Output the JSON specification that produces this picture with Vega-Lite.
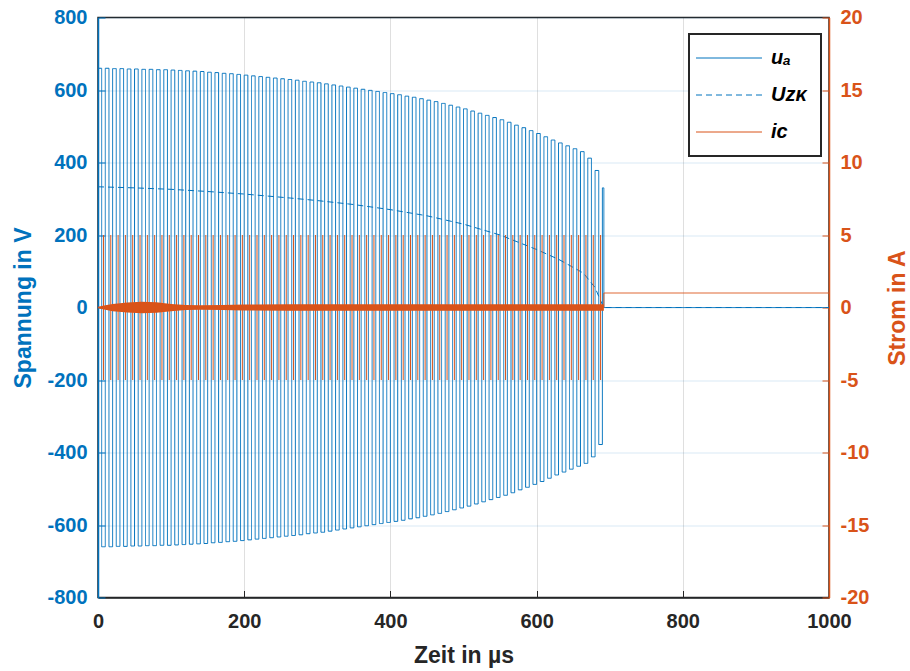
{
  "$schema": "https://vega.github.io/schema/vega-lite/v6.json",
  "width": 731,
  "height": 580,
  "autosize": {"type": "none"},
  "padding": {"left": 98, "top": 17.5, "right": 81, "bottom": 73.5},
  "background": "white",
  "datasets": {
    "ua": [
      {"t":0,"v":660},{"t":5,"v":-660},{"t":10,"v":660},{"t":15,"v":-660},
      {"t":20,"v":659},{"t":25,"v":-659},{"t":30,"v":659},{"t":35,"v":-659},
      {"t":40,"v":658},{"t":45,"v":-658},{"t":50,"v":658},{"t":55,"v":-658},
      {"t":60,"v":657},{"t":65,"v":-657},{"t":70,"v":657},{"t":75,"v":-657},
      {"t":80,"v":656},{"t":85,"v":-656},{"t":90,"v":656},{"t":95,"v":-656},
      {"t":100,"v":655},{"t":105,"v":-655},{"t":110,"v":654},{"t":115,"v":-654},
      {"t":120,"v":653},{"t":125,"v":-653},{"t":130,"v":652},{"t":135,"v":-652},
      {"t":140,"v":651},{"t":145,"v":-651},{"t":150,"v":649},{"t":155,"v":-649},
      {"t":160,"v":648},{"t":165,"v":-648},{"t":170,"v":646},{"t":175,"v":-646},
      {"t":180,"v":645},{"t":185,"v":-645},{"t":190,"v":643},{"t":195,"v":-643},
      {"t":200,"v":641},{"t":205,"v":-641},{"t":210,"v":639},{"t":215,"v":-639},
      {"t":220,"v":637},{"t":225,"v":-637},{"t":230,"v":635},{"t":235,"v":-635},
      {"t":240,"v":633},{"t":245,"v":-633},{"t":250,"v":631},{"t":255,"v":-631},
      {"t":260,"v":629},{"t":265,"v":-629},{"t":270,"v":627},{"t":275,"v":-627},
      {"t":280,"v":624},{"t":285,"v":-624},{"t":290,"v":622},{"t":295,"v":-622},
      {"t":300,"v":620},{"t":305,"v":-620},{"t":310,"v":617},{"t":315,"v":-617},
      {"t":320,"v":614},{"t":325,"v":-614},{"t":330,"v":611},{"t":335,"v":-611},
      {"t":340,"v":608},{"t":345,"v":-608},{"t":350,"v":605},{"t":355,"v":-605},
      {"t":360,"v":602},{"t":365,"v":-602},{"t":370,"v":599},{"t":375,"v":-599},
      {"t":380,"v":596},{"t":385,"v":-596},{"t":390,"v":593},{"t":395,"v":-593},
      {"t":400,"v":590},{"t":405,"v":-590},{"t":410,"v":587},{"t":415,"v":-587},
      {"t":420,"v":583},{"t":425,"v":-583},{"t":430,"v":580},{"t":435,"v":-580},
      {"t":440,"v":576},{"t":445,"v":-576},{"t":450,"v":572},{"t":455,"v":-572},
      {"t":460,"v":568},{"t":465,"v":-568},{"t":470,"v":563},{"t":475,"v":-563},
      {"t":480,"v":558},{"t":485,"v":-558},{"t":490,"v":553},{"t":495,"v":-553},
      {"t":500,"v":548},{"t":505,"v":-548},{"t":510,"v":542},{"t":515,"v":-542},
      {"t":520,"v":536},{"t":525,"v":-536},{"t":530,"v":530},{"t":535,"v":-530},
      {"t":540,"v":524},{"t":545,"v":-524},{"t":550,"v":518},{"t":555,"v":-518},
      {"t":560,"v":511},{"t":565,"v":-511},{"t":570,"v":503},{"t":575,"v":-503},
      {"t":580,"v":496},{"t":585,"v":-496},{"t":590,"v":488},{"t":595,"v":-488},
      {"t":600,"v":480},{"t":605,"v":-480},{"t":610,"v":471},{"t":615,"v":-471},
      {"t":620,"v":462},{"t":625,"v":-462},{"t":630,"v":454},{"t":635,"v":-454},
      {"t":640,"v":446},{"t":645,"v":-446},{"t":650,"v":438},{"t":655,"v":-438},
      {"t":660,"v":430},{"t":665,"v":-430},{"t":670,"v":412},{"t":675,"v":-412},
      {"t":680,"v":378},{"t":685,"v":-378},{"t":690,"v":330},{"t":692,"v":0},
      {"t":1000,"v":0}
    ],
    "uzk": [
      {"t":0,"v":333},{"t":50,"v":330},{"t":100,"v":326},{"t":150,"v":320},
      {"t":200,"v":313},{"t":263,"v":302},{"t":300,"v":295},{"t":350,"v":284},
      {"t":400,"v":270},{"t":450,"v":253},{"t":500,"v":230},{"t":550,"v":200},
      {"t":600,"v":160},{"t":630,"v":133},{"t":664,"v":95},{"t":680,"v":55},
      {"t":687,"v":21},{"t":692,"v":0},{"t":1000,"v":0}
    ],
    "icband": [
      {"t":0,"lo":-0.05,"hi":0.05},{"t":10,"lo":-0.15,"hi":0.15},
      {"t":20,"lo":-0.25,"hi":0.25},{"t":40,"lo":-0.35,"hi":0.35},
      {"t":60,"lo":-0.4,"hi":0.4},{"t":80,"lo":-0.37,"hi":0.37},
      {"t":100,"lo":-0.25,"hi":0.25},{"t":120,"lo":-0.17,"hi":0.17},
      {"t":140,"lo":-0.15,"hi":0.15},{"t":170,"lo":-0.17,"hi":0.17},
      {"t":200,"lo":-0.2,"hi":0.2},{"t":260,"lo":-0.23,"hi":0.23},
      {"t":400,"lo":-0.23,"hi":0.23},{"t":600,"lo":-0.23,"hi":0.23},
      {"t":692,"lo":-0.23,"hi":0.23}
    ],
    "icspikes": [
      {"t":7.5,"lo":-5,"hi":5},{"t":17.5,"lo":-5,"hi":5},{"t":27.5,"lo":-5,"hi":5},{"t":37.5,"lo":-5,"hi":5},
      {"t":47.5,"lo":-5,"hi":5},{"t":57.5,"lo":-5,"hi":5},{"t":67.5,"lo":-5,"hi":5},{"t":77.5,"lo":-5,"hi":5},
      {"t":87.5,"lo":-5,"hi":5},{"t":97.5,"lo":-5,"hi":5},{"t":107.5,"lo":-5,"hi":5},{"t":117.5,"lo":-5,"hi":5},
      {"t":127.5,"lo":-5,"hi":5},{"t":137.5,"lo":-5,"hi":5},{"t":147.5,"lo":-5,"hi":5},{"t":157.5,"lo":-5,"hi":5},
      {"t":167.5,"lo":-5,"hi":5},{"t":177.5,"lo":-5,"hi":5},{"t":187.5,"lo":-5,"hi":5},{"t":197.5,"lo":-5,"hi":5},
      {"t":207.5,"lo":-5,"hi":5},{"t":217.5,"lo":-5,"hi":5},{"t":227.5,"lo":-5,"hi":5},{"t":237.5,"lo":-5,"hi":5},
      {"t":247.5,"lo":-5,"hi":5},{"t":257.5,"lo":-5,"hi":5},{"t":267.5,"lo":-5,"hi":5},{"t":277.5,"lo":-5,"hi":5},
      {"t":287.5,"lo":-5,"hi":5},{"t":297.5,"lo":-5,"hi":5},{"t":307.5,"lo":-5,"hi":5},{"t":317.5,"lo":-5,"hi":5},
      {"t":327.5,"lo":-5,"hi":5},{"t":337.5,"lo":-5,"hi":5},{"t":347.5,"lo":-5,"hi":5},{"t":357.5,"lo":-5,"hi":5},
      {"t":367.5,"lo":-5,"hi":5},{"t":377.5,"lo":-5,"hi":5},{"t":387.5,"lo":-5,"hi":5},{"t":397.5,"lo":-5,"hi":5},
      {"t":407.5,"lo":-5,"hi":5},{"t":417.5,"lo":-5,"hi":5},{"t":427.5,"lo":-5,"hi":5},{"t":437.5,"lo":-5,"hi":5},
      {"t":447.5,"lo":-5,"hi":5},{"t":457.5,"lo":-5,"hi":5},{"t":467.5,"lo":-5,"hi":5},{"t":477.5,"lo":-5,"hi":5},
      {"t":487.5,"lo":-5,"hi":5},{"t":497.5,"lo":-5,"hi":5},{"t":507.5,"lo":-5,"hi":5},{"t":517.5,"lo":-5,"hi":5},
      {"t":527.5,"lo":-5,"hi":5},{"t":537.5,"lo":-5,"hi":5},{"t":547.5,"lo":-5,"hi":5},{"t":557.5,"lo":-5,"hi":5},
      {"t":567.5,"lo":-5,"hi":5},{"t":577.5,"lo":-5,"hi":5},{"t":587.5,"lo":-5,"hi":5},{"t":597.5,"lo":-5,"hi":5},
      {"t":607.5,"lo":-5,"hi":5},{"t":617.5,"lo":-5,"hi":5},{"t":627.5,"lo":-5,"hi":5},{"t":637.5,"lo":-5,"hi":5},
      {"t":647.5,"lo":-5,"hi":5},{"t":657.5,"lo":-5,"hi":5},{"t":667.5,"lo":-5,"hi":5},{"t":677.5,"lo":-5,"hi":5},
      {"t":687.5,"lo":-5,"hi":5}
    ],
    "ic": [
      {"t":0,"v":0},{"t":692,"v":0},{"t":692,"v":1},{"t":1000,"v":1}
    ]
  },
  "layer": [
    {
      "data": {"name": "ua"},
      "mark": {"type": "line", "interpolate": "step-after", "strokeWidth": 1, "clip": true},
      "encoding": {
        "x": {"field": "t", "type": "quantitative", "scale": {"domain": [0, 1000], "nice": false},
          "axis": {"title": "Zeit in µs", "values": [0,200,400,600,800,1000], "labelExpr": "'' + datum.value",
            "labelColor": "#262626", "titleColor": "#262626",
            "domainColor": "#262626", "domainWidth": 1.5, "tickColor": "#262626", "tickSize": -7, "labelPadding": 21,
            "gridColor": "#262626", "gridOpacity": 0.15, "titleX": 365.5, "titleY": 58, "titleBaseline": "middle", "labelFlush": false}},
        "y": {"field": "v", "type": "quantitative", "scale": {"domain": [-800, 800], "nice": false},
          "axis": {"orient": "left", "title": "Spannung in V", "values": [-800,-600,-400,-200,0,200,400,600,800],
            "labelExpr": "datum.value < 0 ? '-' + abs(datum.value) : '' + datum.value",
            "labelColor": "#0072BD", "titleColor": "#0072BD", "domainColor": "#0072BD", "domainWidth": 1.5,
            "tickColor": "#0072BD", "tickSize": -7, "labelPadding": 18, "gridColor": "#0072BD", "gridOpacity": 0.15,
            "titleX": -75, "titleY": 290, "titleAngle": 270, "titleBaseline": "middle", "titleAlign": "center", "labelFlush": false}},
        "color": {"datum": "uₐ", "type": "nominal",
          "scale": {"domain": ["uₐ", "Uᴢᴋ", "iᴄ"], "range": ["#0072BD", "#0072BD", "#D95319"]},
          "legend": {"orient": "none", "legendX": 591, "legendY": 16.5, "title": null, "symbolType": "M-4,0H4",
            "symbolSize": 272, "symbolStrokeWidth": 1, "symbolOffset": 16, "labelFontSize": 20, "labelFontStyle": "italic",
            "labelFontWeight": "bold", "labelColor": "#000000", "fillColor": "white", "strokeColor": "#262626",
            "padding": 14, "rowPadding": 17, "labelOffset": 32,
            "encode": {"legend": {"update": {"strokeWidth": {"value": 2}}}}}},
        "strokeDash": {"datum": "uₐ", "type": "nominal",
          "scale": {"domain": ["uₐ", "Uᴢᴋ", "iᴄ"], "range": [[1,0],[6,4],[1,0]]},
          "legend": {"orient": "none", "legendX": 591, "legendY": 16.5, "title": null}}
      }
    },
    {
      "data": {"name": "uzk"},
      "mark": {"type": "line", "strokeWidth": 1, "clip": true},
      "encoding": {
        "x": {"field": "t", "type": "quantitative"},
        "y": {"field": "v", "type": "quantitative", "scale": {"domain": [-800, 800], "nice": false}, "axis": null},
        "color": {"datum": "Uᴢᴋ", "type": "nominal"},
        "strokeDash": {"datum": "Uᴢᴋ", "type": "nominal"}
      }
    },
    {
      "data": {"name": "icband"},
      "mark": {"type": "area", "color": "#D95319", "clip": true},
      "encoding": {
        "x": {"field": "t", "type": "quantitative"},
        "y": {"field": "lo", "type": "quantitative", "scale": {"domain": [-20, 20], "nice": false}, "axis": null},
        "y2": {"field": "hi"}
      }
    },
    {
      "data": {"name": "icspikes"},
      "mark": {"type": "rule", "color": "#D95319", "strokeWidth": 1, "clip": true},
      "encoding": {
        "x": {"field": "t", "type": "quantitative"},
        "y": {"field": "lo", "type": "quantitative", "scale": {"domain": [-20, 20], "nice": false}, "axis": null},
        "y2": {"field": "hi"}
      }
    },
    {
      "data": {"name": "ic"},
      "mark": {"type": "line", "strokeWidth": 1, "clip": true},
      "encoding": {
        "x": {"field": "t", "type": "quantitative"},
        "y": {"field": "v", "type": "quantitative", "scale": {"domain": [-20, 20], "nice": false},
          "axis": {"orient": "right", "title": "Strom in A", "values": [-20,-15,-10,-5,0,5,10,15,20], "grid": false,
            "labelExpr": "datum.value < 0 ? '-' + abs(datum.value) : '' + datum.value",
            "labelColor": "#D95319", "titleColor": "#D95319", "domainColor": "#D95319", "domainWidth": 1.5,
            "tickColor": "#D95319", "tickSize": -7, "labelPadding": 18,
            "titleX": 68, "titleY": 290, "titleAngle": 270, "titleBaseline": "middle", "titleAlign": "center", "labelFlush": false}},
        "color": {"datum": "iᴄ", "type": "nominal"},
        "strokeDash": {"datum": "iᴄ", "type": "nominal"}
      }
    }
  ],
  "resolve": {"scale": {"y": "independent"}},
  "config": {
    "font": "Liberation Sans",
    "view": {"stroke": "#262626", "strokeWidth": 1.5},
    "axis": {"labelFont": "Liberation Sans", "titleFont": "Liberation Sans", "labelFontWeight": "bold",
      "labelFontSize": 20, "titleFontSize": 23, "titleFontWeight": "bold"},
    "legend": {"labelFont": "Liberation Sans"}
  }
}
